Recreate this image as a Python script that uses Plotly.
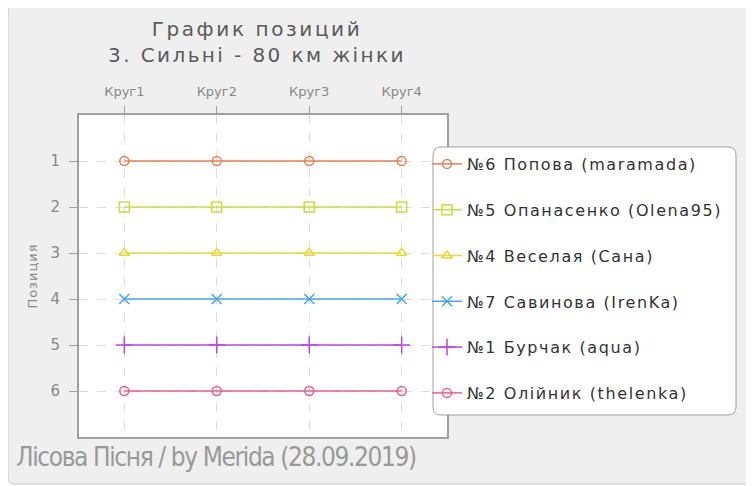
import plotly.graph_objects as go

laps = ["Круг1", "Круг2", "Круг3", "Круг4"]
names = ["№6 Попова (maramada)", "№5 Опанасенко (Olena95)", "№4 Веселая (Сана)",
         "№7 Савинова (IrenKa)", "№1 Бурчак (aqua)", "№2 Олійник (thelenka)"]
positions = [
    [1, 1, 1, 1],
    [2, 2, 2, 2],
    [3, 3, 3, 3],
    [4, 4, 4, 4],
    [5, 5, 5, 5],
    [6, 6, 6, 6],
]
colors = ["#ee7d4c", "#c3e03b", "#e6d932", "#45a5f0", "#bb44ee", "#ee5a8e"]
symbols = ["circle-open", "square-open", "triangle-up-open", "x-thin-open", "cross-thin-open", "circle-open"]
sizes = [9, 10, 9, 10, 12, 9]
y_ticks = [1, 2, 3, 4, 5, 6]

# page body has an 8px margin; reference pixel coords are shifted by O
O = 8
W, H = 754 - O, 486 - O
L, T = 79 - O, 115 - O
R = W - (447 - O)
B = H - (437 - O)
pw, ph = W - L - R, H - T - B


def px(x):
    return (x - O - L) / pw


def py(y):
    return (H - B - (y - O)) / ph


def spaced(s, sp):
    return f'<span style="letter-spacing:{sp}px">{s}</span>'


fig = go.Figure()
for i, nm in enumerate(names):
    fig.add_trace(go.Scatter(
        x=list(range(len(laps))), y=positions[i], mode="lines+markers", name=spaced(nm, 1.6),
        legendgroup=str(i),
        line=dict(color=colors[i], width=1.5),
        marker=dict(symbol=symbols[i], size=sizes[i], color=colors[i],
                    line=dict(color=colors[i], width=1.5)),
    ))


def rounded(x0, y0, x1, y1, r):
    rx, ry = r / pw, r / ph
    a, b, c, d = px(x0), py(y0), px(x1), py(y1)
    return (f"M {a+rx},{b} L {c-rx},{b} Q {c},{b} {c},{b-ry} L {c},{d+ry} Q {c},{d} {c-rx},{d} "
            f"L {a+rx},{d} Q {a},{d} {a},{d+ry} L {a},{b-ry} Q {a},{b} {a+rx},{b} Z")


shapes = [
    dict(type="path", xref="paper", yref="paper", path=rounded(8, 6, 751, 484, 6),
         fillcolor="#efefef", line=dict(color="#c8c8c8", width=1), layer="below"),
    dict(type="rect", xref="paper", yref="paper", x0=0, x1=1, y0=0, y1=1,
         fillcolor="white", line=dict(width=0), layer="below"),
    dict(type="path", xref="paper", yref="paper", path=rounded(433, 147, 736, 415, 8),
         fillcolor="white", line=dict(color="#a0a0a0", width=1), layer="above"),
]

fig.update_layout(
    width=W, height=H,
    margin=dict(l=L, r=R, t=T, b=B),
    paper_bgcolor="white", plot_bgcolor="rgba(0,0,0,0)",
    font=dict(family="DejaVu Sans", color="#888888"),
    title=dict(text=spaced("График позиций", 2.6) + "<br>" + spaced("3. Сильні - 80 км жінки", 2.4),
               x=(257 - O) / W, xanchor="center",
               y=1 - (36 - O) / H, yanchor="middle",
               font=dict(size=20, color="#5a5a5a", family="DejaVu Sans")),
    showlegend=True,
    legend=dict(x=px(427), y=py(147), xanchor="left", yanchor="top", bgcolor="rgba(0,0,0,0)",
                borderwidth=0, font=dict(size=16, color="#333333", family="DejaVu Sans"),
                tracegroupgap=22, itemwidth=30, traceorder="grouped"),
    shapes=shapes,
    annotations=[dict(text=spaced("Лісова Пісня / by Merida (28.09.2019)", -1.4),
                      xref="paper", yref="paper",
                      x=px(14), y=py(457), xanchor="left", yanchor="middle", showarrow=False,
                      font=dict(size=26, color="#999999", family="DejaVu Sans Condensed"))],
)
fig.update_xaxes(
    type="linear", range=[-0.49, 3.49], tickvals=list(range(len(laps))), ticktext=laps,
    side="top", showgrid=True, gridcolor="#dddddd", griddash="dash", gridwidth=1,
    showline=True, linecolor="#a0a0a0", linewidth=2, mirror=True,
    ticks="outside", ticklen=7, tickcolor="#a0a0a0", zeroline=False,
    tickfont=dict(size=13, color="#888888"), ticklabelstandoff=5,
)
fig.update_yaxes(
    range=[7, 0], tickvals=y_ticks, showgrid=True, gridcolor="#dddddd", griddash="dash",
    showline=True, linecolor="#a0a0a0", linewidth=2, mirror=True,
    ticks="outside", ticklen=8, tickcolor="#a0a0a0", zeroline=False,
    tickfont=dict(size=15, color="#888888"), ticklabelstandoff=6,
    title=dict(text=spaced("Позиция", 1), font=dict(size=13, color="#888888"), standoff=10),
)
fig.write_html("out.html")
